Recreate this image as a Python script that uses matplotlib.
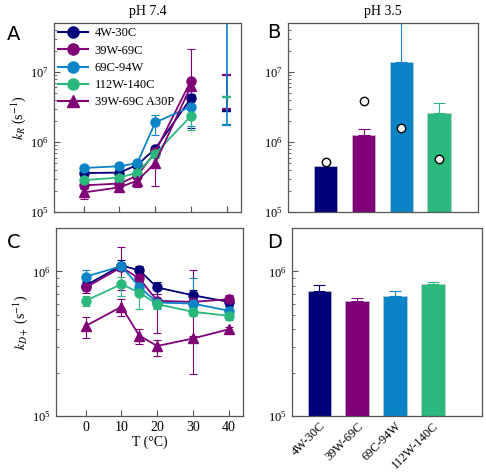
"""
Four-panel rate constant figure: kR / kD+ vs T (pH 7.4) and bar summary (pH 3.5).
"""

import numpy as np
import matplotlib.pyplot as plt
from matplotlib.lines import Line2D
from matplotlib.ticker import LogLocator, NullFormatter

plt.rcParams['font.family'] = ['Liberation Serif', 'DejaVu Serif']
plt.rcParams['mathtext.fontset'] = 'stix'
plt.rcParams['axes.edgecolor'] = '#555555'
plt.rcParams['axes.linewidth'] = 0.9

# ---- data ----
names = ['4W-30C', '39W-69C', '69C-94W', '112W-140C']
colors = ['#000078', '#800078', '#0A84C6', '#2AB87D']
temps = [0, 10, 15, 20, 30]
temps_c = [0, 10, 15, 20, 30, 40]

# panel A: kR (s^-1) at pH 7.4
kR = {
    '4W-30C':       [3.6e5, 3.65e5, 4.7e5, 8.0e5, 4.2e6],
    '39W-69C':      [2.4e5, 2.55e5, 3.3e5, 7.2e5, 7.5e6],
    '69C-94W':      [4.25e5, 4.5e5, 5.0e5, 1.9e6, 3.2e6],
    '112W-140C':    [2.85e5, 3.1e5, 3.65e5, 6.8e5, 2.35e6],
    '39W-69C A30P': [1.9e5, 2.25e5, 2.8e5, 5.0e5, 6.3e6],
}
kR_lo = {
    '4W-30C':       [3.3e5, 3.4e5, 4.3e5, 7.3e5, 1.6e6],
    '39W-69C':      [2.2e5, 2.35e5, 3.0e5, 6.3e5, 3.0e6],
    '69C-94W':      [3.9e5, 4.1e5, 4.6e5, 1.25e6, 1.7e6],
    '112W-140C':    [2.6e5, 2.85e5, 3.3e5, 6.0e5, 1.5e6],
    '39W-69C A30P': [1.53e5, 2.05e5, 2.3e5, 2.35e5, 5.5e6],
}
kR_hi = {
    '4W-30C':       [3.9e5, 3.9e5, 5.1e5, 8.7e5, 4.8e6],
    '39W-69C':      [2.6e5, 2.75e5, 3.6e5, 8.2e5, 2.15e7],
    '69C-94W':      [4.6e5, 4.9e5, 5.4e5, 2.4e6, 4.8e6],
    '112W-140C':    [3.1e5, 3.35e5, 4.0e5, 7.6e5, 3.0e6],
    '39W-69C A30P': [2.1e5, 2.45e5, 3.3e5, 7.0e5, 7.2e6],
}
# error ranges at 40 C (centre values off scale)
kR40_lo = [2.75e6, 2.95e6, 1.74e6, 4.45e6]
kR40_hi = [2.75e6, 9.1e6, 1.0e8, 4.45e6]

# panel B: kR at pH 3.5
kR35 = [4.55e5, 1.24e6, 1.37e7, 2.62e6]
kR35_err = [0, 2.9e5, 6.0e7, 1.0e6]
kR35_pts = [5.1e5, 3.8e6, 1.58e6, 5.8e5]

# panel C: kD+ (s^-1) at pH 7.4
kD = {
    '4W-30C':       [8.0e5, 1.1e6, 1.02e6, 7.75e5, 6.85e5, 6.16e5],
    '39W-69C':      [7.75e5, 1.07e6, 8.95e5, 6.27e5, 6.16e5, 6.43e5],
    '69C-94W':      [9.2e5, 1.09e6, 7.83e5, 6.1e5, 6.0e5, 5.35e5],
    '112W-140C':    [6.27e5, 8.17e5, 7.15e5, 5.94e5, 5.26e5, 4.94e5],
    '39W-69C A30P': [4.2e5, 5.7e5, 3.6e5, 3.05e5, 3.44e5, 3.98e5],
}
kD_lo = {
    '4W-30C':       [7.4e5, 1.0e6, 9.3e5, 7.0e5, 6.2e5, 5.8e5],
    '39W-69C':      [7.1e5, 7.5e5, 8.2e5, 3.76e5, 3.5e5, 6.0e5],
    '69C-94W':      [8.3e5, 1.0e6, 7.1e5, 5.6e5, 5.5e5, 5.0e5],
    '112W-140C':    [5.8e5, 6.8e5, 5.5e5, 5.5e5, 4.9e5, 4.6e5],
    '39W-69C A30P': [3.44e5, 4.9e5, 3.14e5, 2.6e5, 1.94e5, 3.8e5],
}
kD_hi = {
    '4W-30C':       [8.6e5, 1.2e6, 1.1e6, 8.5e5, 7.5e5, 6.5e5],
    '39W-69C':      [8.4e5, 1.48e6, 9.8e5, 7.0e5, 1.03e6, 6.9e5],
    '69C-94W':      [1.02e6, 1.15e6, 8.6e5, 6.6e5, 9.0e5, 5.7e5],
    '112W-140C':    [6.8e5, 9.2e5, 8.6e5, 6.4e5, 5.6e5, 5.3e5],
    '39W-69C A30P': [4.86e5, 6.43e5, 4.0e5, 3.35e5, 3.6e5, 4.1e5],
}

# panel D: kD+ at pH 3.5
kD35 = [7.35e5, 6.27e5, 6.8e5, 8.13e5]
kD35_err = [7.0e4, 2.7e4, 5.5e4, 2.7e4]

series = names + ['39W-69C A30P']
series_col = colors + ['#800078']
series_mk = ['o', 'o', 'o', 'o', '^']

fig = plt.figure(figsize=(4.86, 4.76), dpi=100)
W, H = 486, 476


def add_ax(l, r, t, b):
    return fig.add_axes([l / W, 1 - b / H, (r - l) / W, (b - t) / H])


axA = add_ax(54, 241, 23, 212)
axB = add_ax(288, 478, 23, 212)
axC = add_ax(56, 243, 228, 416)
axD = add_ax(292, 482, 228, 416)


def style_log(ax, ylim):
    ax.set_yscale('log')
    ax.set_ylim(*ylim)
    ax.yaxis.set_major_locator(LogLocator(base=10, numticks=10))
    ax.yaxis.set_minor_locator(LogLocator(base=10, subs=np.arange(2, 10), numticks=10))
    ax.yaxis.set_minor_formatter(NullFormatter())
    ax.tick_params(axis='y', which='major', direction='in', length=4, width=0.8,
                   labelsize=9, right=False, color='#555555')
    ax.tick_params(axis='y', which='minor', direction='in', length=2, width=0.6,
                   right=False, color='#555555')


def bars(ax, vals, errs):
    base = 1e5
    for i, (v, e, c) in enumerate(zip(vals, errs, colors)):
        ax.bar(i, v - base, bottom=base, width=0.62, color=c,
               edgecolor='#cccccc', linewidth=0.4)
        if e > 0:
            ax.errorbar(i, v, yerr=[[0], [e]], color=c, elinewidth=0.8,
                        capsize=4, capthick=0.8, fmt='none')


# ---- A ----
for s, c, m in zip(series, series_col, series_mk):
    y = np.array(kR[s])
    err = [y - np.array(kR_lo[s]), np.array(kR_hi[s]) - y]
    axA.errorbar(temps, y, yerr=err, color=c, marker=m, ms=6.5, lw=1.3,
                 elinewidth=0.8, capsize=2.8, capthick=0.8)
for i, c in enumerate(colors):
    lo, hi = kR40_lo[i], kR40_hi[i]
    axA.vlines(40, lo, hi, color=c, lw=1.2)
    axA.hlines([lo, hi], 40 - 1.3, 40 + 1.3, color=c, lw=1.6)
axA.set_xlim(-8.3, 44)
axA.set_xticks([0, 10, 20, 30, 40])
axA.tick_params(axis='x', direction='in', length=4, labelbottom=False, color='#555555')
style_log(axA, (1e5, 5e7))
axA.set_ylabel(r'$k_R$ (s$^{-1}$)', fontsize=10, labelpad=2)
axA.set_title('pH 7.4', fontsize=10, pad=6)
handles = [Line2D([], [], color=c, marker=m, ms=8, lw=1.5)
           for c, m in zip(series_col, series_mk)]
axA.legend(handles, series, loc='upper left', frameon=False, fontsize=9,
           handlelength=2.4, labelspacing=0.42, borderaxespad=0.05,
           borderpad=0.3, handletextpad=0.5)

# ---- B ----
xb = np.arange(len(names))
bars(axB, kR35, kR35_err)
axB.plot(xb, kR35_pts, 'o', ms=6, mfc='white', mec='black', mew=1.0, ls='none')
axB.set_xlim(-1, 4.03)
axB.set_xticks([])
style_log(axB, (1e5, 5e7))
axB.set_title('pH 3.5', fontsize=10, pad=6)

# ---- C ----
for s, c, m in zip(series, series_col, series_mk):
    y = np.array(kD[s])
    err = [y - np.array(kD_lo[s]), np.array(kD_hi[s]) - y]
    axC.errorbar(temps_c, y, yerr=err, color=c, marker=m, ms=6.5, lw=1.3,
                 elinewidth=0.8, capsize=2.8, capthick=0.8)
axC.set_xlim(-8.3, 44)
axC.set_xticks([0, 10, 20, 30, 40])
axC.tick_params(axis='x', direction='in', length=4, labelsize=10, color='#555555')
style_log(axC, (1e5, 2e6))
axC.set_ylabel(r'$k_{D+}$ (s$^{-1}$)', fontsize=10, labelpad=2)
axC.set_xlabel('T (°C)', fontsize=10, labelpad=1)

# ---- D ----
bars(axD, kD35, kD35_err)
axD.set_xlim(-0.72, 4.3)
axD.set_xticks(xb)
axD.set_xticklabels(names, rotation=45, ha='right', rotation_mode='anchor', fontsize=9)
axD.tick_params(axis='x', length=0, pad=3)
style_log(axD, (1e5, 2e6))

for lab, x, y in [('A', 7, 40), ('B', 267, 38), ('C', 7, 248), ('D', 267, 248)]:
    fig.text(x / W, 1 - y / H, lab, fontsize=14, family='DejaVu Sans')

fig.savefig('out.png', dpi=100)
